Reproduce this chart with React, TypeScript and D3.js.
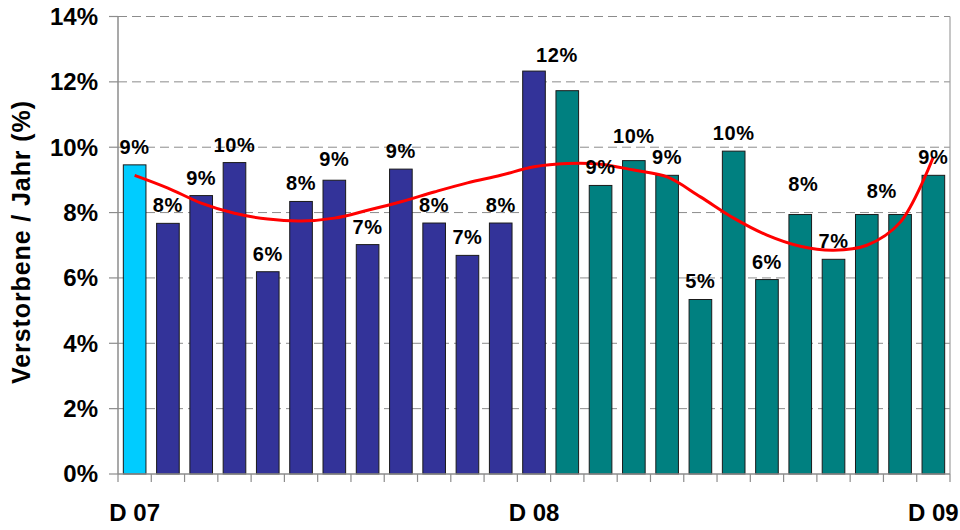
import React from "react";
import * as d3 from "d3";

const categories = [
  "2007-12", "2008-01", "2008-02", "2008-03", "2008-04", "2008-05", "2008-06",
  "2008-07", "2008-08", "2008-09", "2008-10", "2008-11", "2008-12",
  "2009-01", "2009-02", "2009-03", "2009-04", "2009-05", "2009-06",
  "2009-07", "2009-08", "2009-09", "2009-10", "2009-11", "2009-12",
];
const deathRate = [
  9.46, 7.67, 8.52, 9.53, 6.19, 8.34, 8.99, 7.02, 9.33, 7.68, 6.69, 7.68, 12.33,
  11.73, 8.83, 9.59, 9.14, 5.34, 9.88, 5.95, 7.94, 6.57, 7.94, 7.94, 9.14,
];
const trendValues = [
  9.14, 8.75, 8.29, 7.98, 7.8, 7.74, 7.83, 8.07, 8.33, 8.63, 8.91, 9.14, 9.4,
  9.5, 9.48, 9.3, 9.09, 8.48, 7.83, 7.31, 6.97, 6.85, 7.0, 7.7, 9.7,
];
const labelShown = [
  true, true, true, true, true, true, true, true, true, true, true, true, true,
  false, true, true, true, true, true, true, true, true, true, false, true,
];
const yTicks = [0, 2, 4, 6, 8, 10, 12, 14];
const xTickLabels: Record<string, string> = {
  "2007-12": "D 07",
  "2008-12": "D 08",
  "2009-12": "D 09",
};
const yearColors: Record<string, string> = {
  "2007": "#00CCFF",
  "2008": "#333399",
  "2009": "#008080",
};

// label nudges (layout only)
const labelNudge: Record<number, [number, number]> = {
  6: [0, -3],
  12: [23, 2],
  15: [0, -7],
  20: [3, -13],
  22: [15, -6],
};

const W = 960;
const H = 530;
const M = { left: 118, right: 950, top: 16.5, bottom: 474 };
const FONT = "'Liberation Sans', Arial, sans-serif";

export default function App() {
  const x = d3
    .scaleBand<string>()
    .domain(categories)
    .range([M.left, M.right])
    .paddingInner(0.32)
    .paddingOuter(0.16);
  const y = d3.scaleLinear().domain([0, 14]).range([M.bottom, M.top]);
  const step = x.step();
  const cx = (c: string) => (x(c) as number) + x.bandwidth() / 2;
  const fmt = d3.format(".0%");

  const line = d3
    .line<number>()
    .x((_, i) => cx(categories[i]))
    .y((d) => y(d))
    .curve(d3.curveCatmullRom.alpha(0.5));

  const boundaries = d3.range(categories.length + 1).map((i) => M.left + i * step);

  return (
    <svg
      width={W}
      height={H}
      style={{ position: "absolute", left: 0, top: 0, background: "#fff" }}
      fontFamily={FONT}
    >
      <rect x={0} y={0} width={W} height={H} fill="#fff" />
      {yTicks.filter((t) => t > 0).map((t) => (
        <line
          key={t}
          x1={M.left}
          x2={M.right}
          y1={y(t)}
          y2={y(t)}
          stroke="#8c8c8c"
          strokeWidth={1}
          strokeDasharray="9,5"
        />
      ))}
      <line x1={M.right} x2={M.right} y1={M.top} y2={M.bottom} stroke="#a0a0a0" strokeWidth={1.2} />
      {categories.map((c, i) => (
        <rect
          key={c}
          x={x(c)}
          y={y(deathRate[i])}
          width={x.bandwidth()}
          height={y(0) - y(deathRate[i])}
          fill={yearColors[c.slice(0, 4)]}
          stroke="#1a1a1a"
          strokeWidth={1}
        />
      ))}
      <path d={line(trendValues) || ""} fill="none" stroke="#FF0000" strokeWidth={3} />
      {categories.map((c, i) => {
        if (!labelShown[i]) return null;
        const n = labelNudge[i] || [0, 0];
        return (
          <text
            key={c}
            x={cx(c) + n[0]}
            y={y(deathRate[i]) - 11 + n[1]}
            textAnchor="middle"
            fontSize={20}
            fontWeight="bold"
            letterSpacing={0.6}
            fill="#000"
          >
            {fmt(Math.round(deathRate[i]) / 100)}
          </text>
        );
      })}
      <line x1={M.left} x2={M.left} y1={M.top} y2={M.bottom} stroke="#8c8c8c" strokeWidth={1.5} />
      {yTicks.map((t) => (
        <g key={t}>
          <line x1={M.left - 9} x2={M.left} y1={y(t)} y2={y(t)} stroke="#8c8c8c" strokeWidth={1.2} />
          <text
            x={98}
            y={y(t)}
            dy="0.35em"
            textAnchor="end"
            fontSize={24}
            fontWeight="bold"
            fill="#000"
          >
            {t}%
          </text>
        </g>
      ))}
      <line x1={M.left} x2={M.right} y1={M.bottom} y2={M.bottom} stroke="#8c8c8c" strokeWidth={1.5} />
      {boundaries.map((bx, i) => (
        <line key={i} x1={bx} x2={bx} y1={M.bottom} y2={M.bottom + 8} stroke="#8c8c8c" strokeWidth={1.2} />
      ))}
      {categories
        .filter((c) => xTickLabels[c])
        .map((c) => (
          <text
            key={c}
            x={cx(c)}
            y={521}
            textAnchor="middle"
            fontSize={24}
            fontWeight="bold"
            fill="#000"
          >
            {xTickLabels[c]}
          </text>
        ))}
      <text
        transform={`translate(30, 242) rotate(-90)`}
        textAnchor="middle"
        fontSize={25}
        fontWeight="bold"
        letterSpacing={0.9}
        fill="#000"
      >
        Verstorbene / Jahr (%)
      </text>
    </svg>
  );
}
